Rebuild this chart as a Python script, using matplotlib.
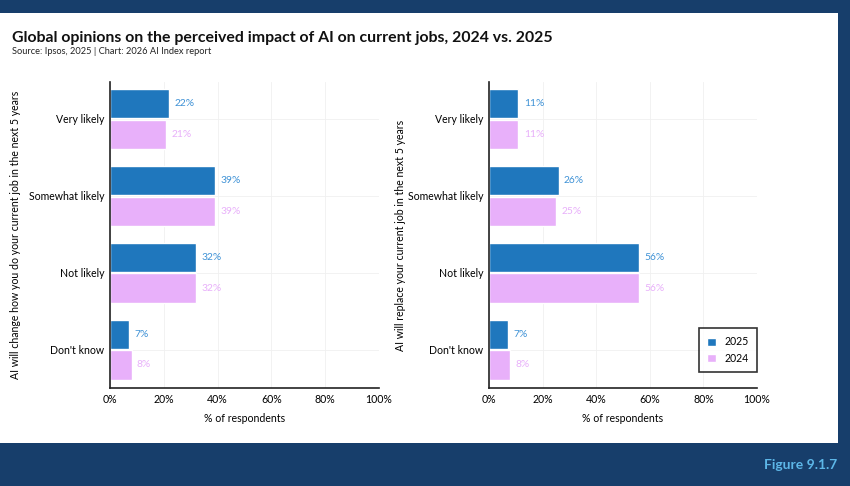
import numpy as np
import matplotlib
matplotlib.use("Agg")
import matplotlib.pyplot as plt
from matplotlib.patches import Rectangle

# 数据
categories = ["Very likely", "Somewhat likely", "Not likely", "Don't know"]
change_2025 = [22, 39, 32, 7]
change_2024 = [21, 39, 32, 8]
replace_2025 = [11, 26, 56, 7]
replace_2024 = [11, 25, 56, 8]
x_ticks = [0, 20, 40, 60, 80, 100]

NAVY = "#173e6b"
BLUE = "#1f77bd"
PINK = "#e8b0fa"
BLUE_TXT = "#3f92d6"
PINK_TXT = "#e8b0fa"

plt.rcParams["font.family"] = ["Lato", "DejaVu Sans"]

W, H = 850, 486
fig = plt.figure(figsize=(W / 100, H / 100), dpi=100)
fig.patch.set_facecolor(NAVY)

# 白色面板
fig.patches.append(Rectangle((0, 1 - 443 / H), 838 / W, (443 - 13) / H,
                             transform=fig.transFigure, facecolor="white",
                             edgecolor="none", zorder=-10))

fig.text(12 / W, 1 - 38 / H,
         "Global opinions on the perceived impact of AI on current jobs, 2024 vs. 2025",
         fontsize=11.4, fontweight="bold", color="#111111", va="center")
fig.text(12 / W, 1 - 51 / H, "Source: Ipsos, 2025 | Chart: 2026 AI Index report",
         fontsize=6.7, color="#222222", va="center")
fig.text(837 / W, 1 - 465 / H, "Figure 9.1.7", fontsize=10, fontweight="bold",
         color="#5db7e8", ha="right", va="center")

y = np.arange(len(categories))
off, h = 0.2, 0.38


def draw(ax, v25, v24, ylabel, legend=False):
    ax.barh(y - off, v25, height=h, color=BLUE, edgecolor="white", lw=1,
            label="2025", zorder=3)
    ax.barh(y + off, v24, height=h, color=PINK, edgecolor="white", lw=1,
            label="2024", zorder=3)
    for i in range(len(categories)):
        ax.text(v25[i] + 2, y[i] - off, f"{v25[i]}%", color=BLUE_TXT,
                fontsize=7.4, va="center")
        ax.text(v24[i] + 2, y[i] + off, f"{v24[i]}%", color=PINK_TXT,
                fontsize=7.4, va="center")
    ax.set_xlim(0, 100)
    ax.set_ylim(3.5, -0.48)
    ax.set_xticks(x_ticks)
    ax.set_xticklabels([f"{t}%" for t in x_ticks])
    ax.set_yticks(y)
    ax.set_yticklabels(categories)
    ax.tick_params(axis="both", labelsize=7.6, length=0, pad=4)
    ax.grid(True, color="#f0f0f0", lw=0.6, zorder=0)
    for s in ["top", "right"]:
        ax.spines[s].set_visible(False)
    for s in ["left", "bottom"]:
        ax.spines[s].set_color("#222222")
        ax.spines[s].set_linewidth(1.2)
        ax.spines[s].set_zorder(5)
    ax.set_xlabel("% of respondents", fontsize=7.6, labelpad=6)
    ax.set_ylabel(ylabel, fontsize=7.6)
    if legend:
        leg = ax.legend(loc="lower right", fontsize=7.6, frameon=True,
                        fancybox=False, edgecolor="black", handlelength=0.8,
                        handleheight=0.8, borderpad=0.8, labelspacing=0.5,
                        borderaxespad=0, bbox_to_anchor=(1.0, 0.052))
        leg.get_frame().set_linewidth(1.2)


ax1 = fig.add_axes([110 / W, 1 - 388 / H, 269 / W, 306 / H])
draw(ax1, change_2025, change_2024,
     "AI will change how you do your current job in the next 5 years")
ax1.yaxis.set_label_coords(-0.33, 0.5)

ax2 = fig.add_axes([489 / W, 1 - 388 / H, 268 / W, 306 / H])
draw(ax2, replace_2025, replace_2024,
     "AI will replace your current job in the next 5 years", legend=True)
ax2.yaxis.set_label_coords(-0.31, 0.5)

fig.savefig("out.png", dpi=100, facecolor=fig.get_facecolor())
